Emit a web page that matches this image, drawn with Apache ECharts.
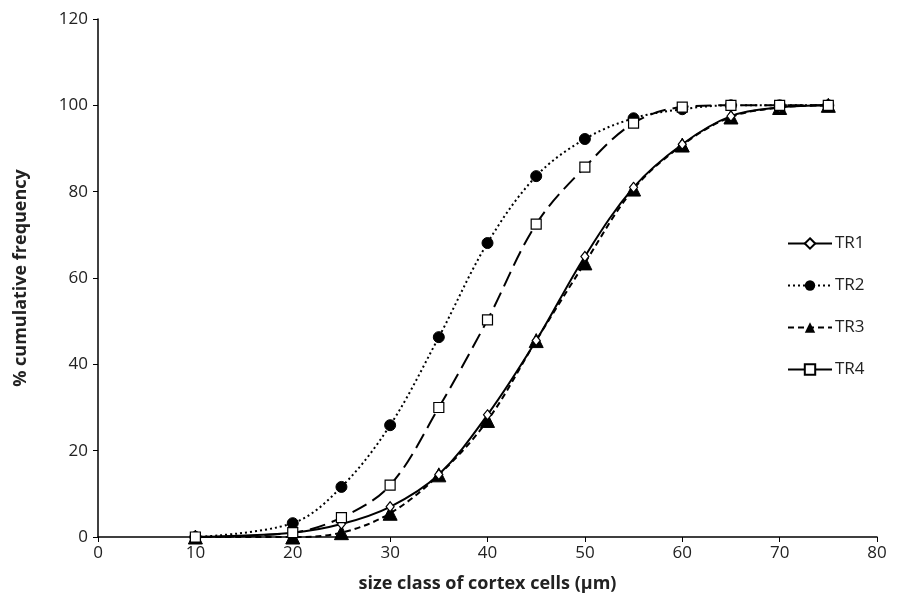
<!DOCTYPE html>
<html>
<head>
<meta charset="utf-8">
<script src="https://cdn.jsdelivr.net/npm/echarts@6/dist/echarts.min.js"></script>
<style>
  html, body { margin: 0; padding: 0; background: #fff; }
  #chart { width: 899px; height: 609px; }
</style>
</head>
<body>
<div id="chart"></div>
<script>
    // size classes (µm)
    var sizeClasses = [10, 20, 25, 30, 35, 40, 45, 50, 55, 60, 65, 70, 75];
    // % cumulative frequency per treatment
    var tr1 = [0, 1, 3, 7, 14.5, 28.3, 45.5, 65, 81, 91, 97.5, 99.5, 100];
    var tr2 = [0, 3.2, 11.6, 25.9, 46.3, 68.1, 83.6, 92.2, 97, 99.1, 100, 100, 100];
    var tr3 = [0, 0, 1, 5.5, 14.4, 27, 45.5, 63.5, 80.6, 90.8, 97.3, 99.5, 100];
    var tr4 = [0, 1, 4.5, 12, 30, 50.3, 72.5, 85.7, 95.9, 99.6, 100, 100, 100];

    function pairs(vals) {
        var out = [];
        for (var i = 0; i < sizeClasses.length; i++) {
            out.push([sizeClasses[i], vals[i]]);
        }
        return out;
    }

    var font = 'Open Sans, Liberation Sans, sans-serif';
    var chart = echarts.init(document.getElementById('chart'));

    var option = {
        animation: false,
        backgroundColor: '#fff',
        grid: { left: 98, right: 22, top: 19, bottom: 72 },
        legend: {
            orient: 'vertical',
            left: 782,
            top: 230,
            itemGap: 25,
            itemWidth: 44,
            itemHeight: 13,
            textStyle: { fontFamily: font, fontSize: 17, color: '#222', padding: [0, 0, 0, -2] },
            data: [
                { name: 'TR1' },
                { name: 'TR2' },
                { name: 'TR3' },
                { name: 'TR4', lineStyle: { type: 'solid' } }
            ]
        },
        xAxis: {
            type: 'value',
            min: 0, max: 80, interval: 10,
            name: 'size class of cortex cells (µm)',
            nameLocation: 'middle',
            nameGap: 38,
            nameTextStyle: { fontFamily: font, fontSize: 18, fontWeight: 'bold', color: '#222' },
            axisLine: { lineStyle: { color: '#000', width: 1.5 } },
            axisTick: { show: true, length: 5, lineStyle: { color: '#000' } },
            axisLabel: { fontFamily: font, fontSize: 17, color: '#222', margin: 8 },
            splitLine: { show: false }
        },
        yAxis: {
            type: 'value',
            min: 0, max: 120, interval: 20,
            name: '% cumulative frequency',
            nameLocation: 'middle',
            nameGap: 68,
            nameTextStyle: { fontFamily: font, fontSize: 18, fontWeight: 'bold', color: '#222' },
            axisLine: { show: true, lineStyle: { color: '#000', width: 1.5 } },
            axisTick: { show: true, length: 5, lineStyle: { color: '#000' } },
            axisLabel: { fontFamily: font, fontSize: 17, color: '#222', margin: 10 },
            splitLine: { show: false }
        },
        series: [
            {
                name: 'TR1', type: 'line', smooth: 0.35,
                data: pairs(tr1),
                symbol: 'diamond', symbolSize: [8, 10],
                itemStyle: { color: '#fff', borderColor: '#000', borderWidth: 1.2 },
                lineStyle: { color: '#000', width: 2, type: 'solid' },
                z: 4
            },
            {
                name: 'TR2', type: 'line', smooth: 0.35,
                data: pairs(tr2),
                symbol: 'circle', symbolSize: 11,
                itemStyle: { color: '#000', borderColor: '#000' },
                lineStyle: { color: '#000', width: 2, type: [2, 3] },
                z: 3
            },
            {
                name: 'TR3', type: 'line', smooth: 0.35,
                data: pairs(tr3),
                symbol: 'triangle', symbolSize: 14,
                itemStyle: { color: '#000', borderColor: '#000' },
                lineStyle: { color: '#000', width: 2, type: [6, 4] },
                z: 2
            },
            {
                name: 'TR4', type: 'line', smooth: 0.35,
                data: pairs(tr4),
                symbol: 'rect', symbolSize: 10,
                itemStyle: { color: '#fff', borderColor: '#000', borderWidth: 1.2 },
                lineStyle: { color: '#000', width: 2, type: [16, 7] },
                z: 5
            }
        ]
    };

    chart.setOption(option);
</script>
</body>
</html>
